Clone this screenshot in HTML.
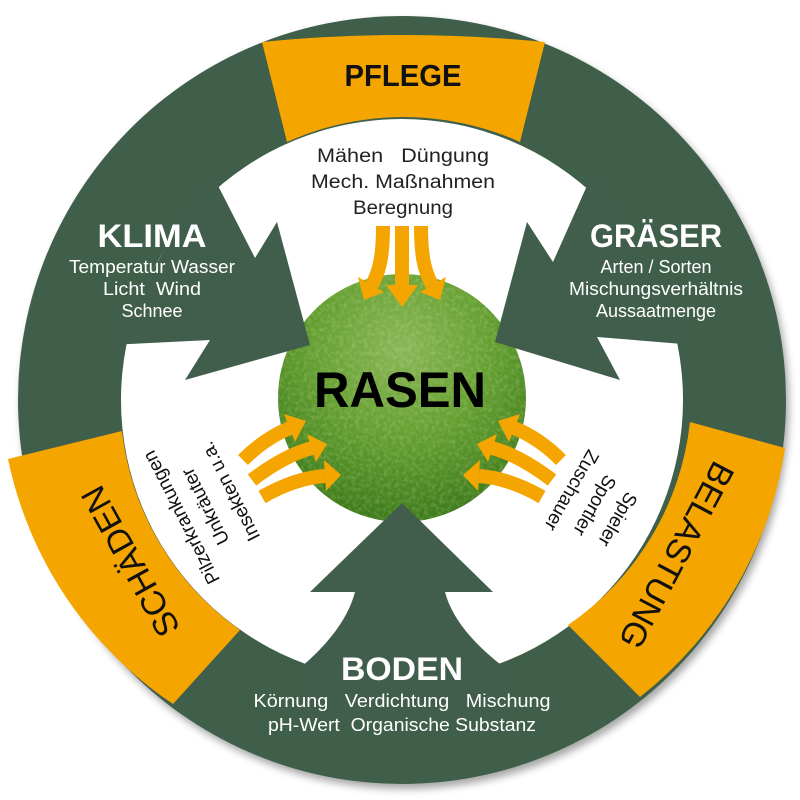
<!DOCTYPE html>
<html><head><meta charset="utf-8"><style>
html,body{margin:0;padding:0;background:#fff;}
svg{display:block;}
text{font-family:"Liberation Sans",sans-serif;white-space:pre;}
</style></head><body>
<svg width="800" height="800" viewBox="0 0 800 800" xmlns="http://www.w3.org/2000/svg">
<defs>
<filter id="sh" x="-10%" y="-10%" width="120%" height="120%">
<feDropShadow dx="3" dy="5" stdDeviation="4" flood-color="#000" flood-opacity="0.35"/>
</filter>
<radialGradient id="grass" cx="50%" cy="30%" r="70%">
<stop offset="0" stop-color="#8ab656"/>
<stop offset="0.5" stop-color="#66a032"/>
<stop offset="1" stop-color="#3d7a1a"/>
</radialGradient>
<filter id="tex"><feTurbulence type="fractalNoise" baseFrequency="0.25" numOctaves="2" seed="3"/><feColorMatrix values="0 0 0 0 0.8  0 0 0 0 0.95  0 0 0 0 0.6  0 0 0 0.9 -0.35"/><feComposite in2="SourceGraphic" operator="in"/></filter>
<clipPath id="gc"><circle cx="402" cy="398" r="124"/></clipPath>
</defs>

<circle cx="402" cy="400" r="384" fill="#405e4b" filter="url(#sh)"/>
<circle cx="402" cy="400" r="281" fill="#fff"/>

<!-- grass -->
<circle cx="402" cy="398" r="124" fill="url(#grass)"/>
<rect x="270" y="270" width="270" height="260" clip-path="url(#gc)" fill="#5e9a2c" filter="url(#tex)" opacity="0.5"/>

<!-- dark arrows -->
<path d="M210,170 L255,258 L277,222 L310,345 L185,380 L210,340 L110,345 Z" fill="#405e4b"/>
<path d="M594,170 L553,262 L527,222 L495,342 L620,380 L597,337 L695,345 Z" fill="#405e4b"/>
<path d="M402,503 L310,592 L355,592 Q345,630 300,668 L300,720 L505,720 L505,668 Q455,630 445,592 L493,592 Z" fill="#405e4b"/>

<!-- orange segments -->
<path d="M262,42 Q403,28 545,42 L520,142 A284,284 0 0 0 287,142 Z" fill="#f5a500"/>
<path d="M690,422 L785,448 A390,390 0 0 1 640,697 L568,625 A282,282 0 0 0 690,422 Z" fill="#f5a500"/>
<path d="M122,431 L8,459 A390,390 0 0 0 173,704 L240,630 A282,282 0 0 1 122,431 Z" fill="#f5a500"/>

<!-- orange small arrows -->
<g fill="none" stroke="#f5a500" stroke-width="14">
<path d="M383,226 C383,255 380,270 372,285"/>
<path d="M402,226 L402,290"/>
<path d="M421,226 C421,255 424,270 432,285"/>
<path d="M243,460 Q265,438 290,428"/>
<path d="M252,480 Q285,455 312,448"/>
<path d="M262,497 Q295,478 325,476"/>
<path d="M561,460 Q539,438 514,428"/>
<path d="M552,480 Q519,455 492,448"/>
<path d="M542,497 Q509,478 479,476"/>
</g>
<g fill="#f5a500">
<polygon points="364,300 384,292 358,277"/>
<polygon points="386,285 418,285 402,307"/>
<polygon points="440,300 420,292 446,277"/>
<polygon points="306,421 295,442 284,414"/>
<polygon points="327,444 316,462 307,434"/>
<polygon points="341,475 326,491 324,460"/>
<polygon points="498,421 509,442 520,414"/>
<polygon points="477,444 488,462 497,434"/>
<polygon points="463,475 478,491 480,460"/>
</g>

<!-- labels -->
<text x="403" y="86" font-size="31" font-weight="bold" text-anchor="middle" fill="#111" textLength="117" lengthAdjust="spacingAndGlyphs">PFLEGE</text>
<g font-size="19" fill="#222" text-anchor="middle">
<text x="403" y="162" textLength="172" lengthAdjust="spacingAndGlyphs">Mähen   Düngung</text>
<text x="403" y="188" textLength="184" lengthAdjust="spacingAndGlyphs">Mech. Maßnahmen</text>
<text x="403" y="214" textLength="100" lengthAdjust="spacingAndGlyphs">Beregnung</text>
</g>
<text x="152" y="247" font-size="32" font-weight="bold" text-anchor="middle" fill="#fff" textLength="109" lengthAdjust="spacingAndGlyphs">KLIMA</text>
<g font-size="18" fill="#fff" text-anchor="middle">
<text x="152" y="273" textLength="166" lengthAdjust="spacingAndGlyphs">Temperatur Wasser</text>
<text x="152" y="295" textLength="98" lengthAdjust="spacingAndGlyphs">Licht  Wind</text>
<text x="152" y="317">Schnee</text>
</g>
<text x="656" y="247" font-size="32" font-weight="bold" text-anchor="middle" fill="#fff" textLength="132" lengthAdjust="spacingAndGlyphs">GRÄSER</text>
<g font-size="18" fill="#fff" text-anchor="middle">
<text x="656" y="273">Arten / Sorten</text>
<text x="656" y="295" textLength="174" lengthAdjust="spacingAndGlyphs">Mischungsverhältnis</text>
<text x="656" y="317">Aussaatmenge</text>
</g>
<text x="402" y="680" font-size="32" font-weight="bold" text-anchor="middle" fill="#fff" textLength="122" lengthAdjust="spacingAndGlyphs">BODEN</text>
<g font-size="18" fill="#fff" text-anchor="middle">
<text x="402" y="707" textLength="297" lengthAdjust="spacingAndGlyphs">Körnung   Verdichtung   Mischung</text>
<text x="402" y="731" textLength="268" lengthAdjust="spacingAndGlyphs">pH-Wert  Organische Substanz</text>
</g>
<text x="400" y="407" font-size="50" font-weight="bold" text-anchor="middle" fill="#000" textLength="172" lengthAdjust="spacingAndGlyphs">RASEN</text>

<text transform="translate(131,561) rotate(-119)" font-size="34" text-anchor="middle" dominant-baseline="central" fill="#111">SCHÄDEN</text>
<text transform="translate(676,555) rotate(118)" font-size="34" text-anchor="middle" dominant-baseline="central" fill="#111">BELASTUNG</text>

<g font-size="19" fill="#111" text-anchor="middle" dominant-baseline="central">
<text transform="translate(182,517) rotate(-117)">Pilzerkrankungen</text>
<text transform="translate(206,506) rotate(-117)">Unkräuter</text>
<text transform="translate(231,491) rotate(-117)">Insekten u.a.</text>
<text transform="translate(617,519) rotate(120)">Spieler</text>
<text transform="translate(594,505) rotate(120)">Sportler</text>
<text transform="translate(571,490) rotate(120)">Zuschauer</text>
</g>
</svg>
</body></html>
